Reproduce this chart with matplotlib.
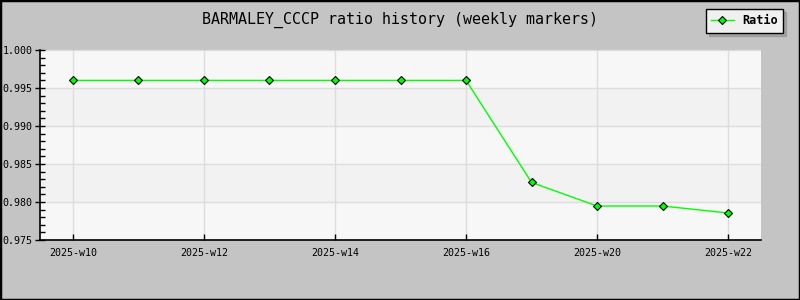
import matplotlib.pyplot as plt
from matplotlib.patches import Rectangle
import numpy as np

plt.rcParams['font.family'] = ['DejaVu Sans Mono']

weeks = ['2025-w10', '2025-w11', '2025-w12', '2025-w13', '2025-w14', '2025-w15',
         '2025-w16', '2025-w18', '2025-w20', '2025-w21', '2025-w22']
ratio = [0.9960, 0.9960, 0.9960, 0.9960, 0.9960, 0.9960, 0.9960,
         0.98257, 0.97947, 0.97947, 0.97855]
yticks = [0.975, 0.980, 0.985, 0.990, 0.995, 1.000]

fig = plt.figure(figsize=(8, 3), dpi=100, facecolor='#c4c4c4')
fig.patches.append(Rectangle((0, 0), 1, 1, transform=fig.transFigure, fill=False,
                             edgecolor='black', linewidth=2.5, zorder=10))
ax = fig.add_axes([0.05, 0.2, 0.90125, 0.6333])
ax.set_facecolor('#f7f7f7')

# alternating bands between gridlines
for i in range(len(yticks) - 1):
    if i % 2 == 1:
        ax.axhspan(yticks[i], yticks[i + 1], color='#f2f2f2', zorder=0, linewidth=0)

x = np.arange(len(weeks))
ax.plot(x, ratio, '-D', color='#00ff00', linewidth=1, markersize=3.8,
        markerfacecolor='#00ff00', markeredgecolor='black', markeredgewidth=0.8,
        label='Ratio', zorder=3)

ax.set_xlim(-0.5, len(weeks) - 0.5)
ax.set_ylim(0.975, 1.0)
ax.set_xticks(x[::2])
ax.set_xticklabels(weeks[::2], fontsize=7.2)
ax.set_yticks(yticks)
ax.set_yticklabels([f'{v:.3f}' for v in yticks], fontsize=7.2)
ax.set_yticks(np.arange(0.975, 1.0001, 0.001), minor=True)
ax.grid(True, color='#dddddd', linewidth=1, zorder=1)
ax.set_axisbelow(True)
for s in ['top', 'right']:
    ax.spines[s].set_visible(False)
for s in ['left', 'bottom']:
    ax.spines[s].set_linewidth(1.2)
ax.tick_params(axis='y', which='major', direction='inout', length=7, width=1, pad=2)
ax.tick_params(axis='y', which='minor', direction='in', length=3.5, width=1)
ax.tick_params(axis='x', which='major', direction='in', length=4, width=1, pad=6)

fig.text(0.5, 0.935, 'BARMALEY_CCCP ratio history (weekly markers)',
         ha='center', va='center', fontsize=10.8)

leg = fig.legend(loc='upper right', bbox_to_anchor=(0.979, 0.97), borderaxespad=0,
                 frameon=True, fancybox=False, shadow={'color': '#888888'},
                 handlelength=1.9, borderpad=0.45, handletextpad=0.7,
                 prop={'weight': 'bold', 'size': 8.6})
leg.get_frame().set_facecolor('#f0f0f0')
leg.get_frame().set_edgecolor('black')
leg.get_frame().set_linewidth(1)
leg.get_frame().set_alpha(1)

fig.savefig('out.png', dpi=100, facecolor=fig.get_facecolor())
